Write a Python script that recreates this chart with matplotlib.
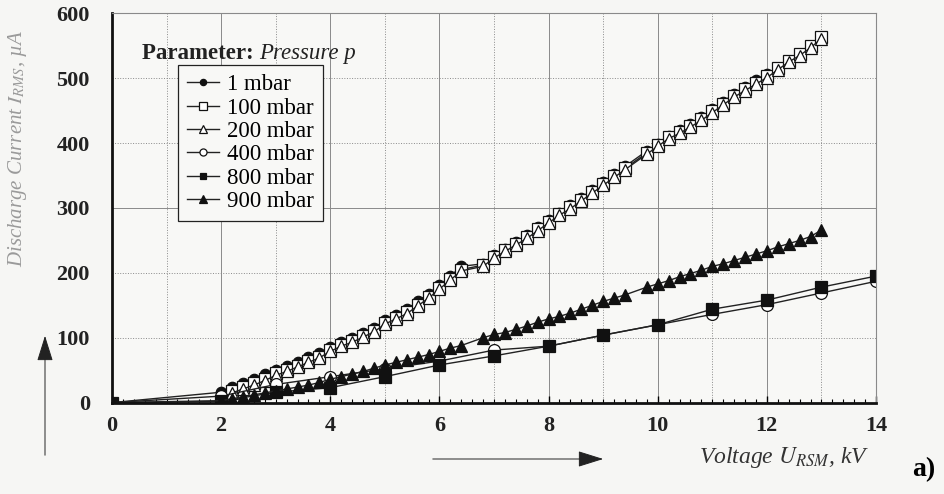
import matplotlib
matplotlib.use("Agg")
import matplotlib.pyplot as plt
from matplotlib.ticker import MultipleLocator

plt.rcParams["font.family"] = ["Liberation Serif", "DejaVu Serif"]
plt.rcParams["mathtext.fontset"] = "stix"

# upper branch (1 / 100 / 200 mbar), measured every 0.2 kV with two gaps
V_UPPER = [2.2, 2.4, 2.6, 2.8, 3.0, 3.2, 3.4, 3.6, 3.8, 4.0, 4.2, 4.4, 4.6, 4.8,
           5.0, 5.2, 5.4, 5.6, 5.8, 6.0, 6.2, 6.4, 6.8, 7.0, 7.2, 7.4, 7.6, 7.8,
           8.0, 8.2, 8.4, 8.6, 8.8, 9.0, 9.2, 9.4, 9.8, 10.0, 10.2, 10.4, 10.6,
           10.8, 11.0, 11.2, 11.4, 11.6, 11.8, 12.0, 12.2, 12.4, 12.6, 12.8, 13.0]
I_100 = [18, 24, 30, 37, 45, 51, 57, 64, 71, 81, 89, 95, 103, 111,
         123, 131, 139, 151, 163, 177, 191, 205, 212, 225, 235, 245, 255, 267,
         279, 291, 301, 313, 325, 337, 349, 361, 385, 397, 409, 417, 427,
         437, 449, 461, 473, 483, 493, 503, 515, 527, 537, 549, 563]
I_200 = [15, 21, 27, 34, 42, 48, 55, 62, 69, 79, 87, 93, 101, 109,
         121, 129, 137, 149, 161, 175, 189, 203, 210, 223, 233, 243, 253, 265,
         277, 289, 299, 311, 323, 335, 347, 359, 383, 395, 407, 415, 425,
         435, 447, 459, 471, 481, 491, 501, 513, 525, 535, 547, 561]

V_1 = [0, 2.0, 2.2, 2.4, 2.6, 2.8, 3.0, 3.2, 3.4, 3.6, 3.8, 4.0, 4.2, 4.4, 4.6,
       4.8, 5.0, 5.2, 5.4, 5.6, 5.8, 6.0, 6.2, 6.4, 6.8, 7.0, 7.2, 7.4, 7.6,
       7.8, 8.0, 8.2, 8.4, 8.6, 8.8, 9.0, 9.2, 9.4, 9.8, 10.0, 10.2, 10.4,
       10.6, 10.8, 11.0, 11.2, 11.4, 11.6, 11.8, 12.0]
I_1 = [0, 16, 24, 30, 37, 44, 51, 57, 63, 70, 77, 86, 93, 99, 107,
       115, 127, 135, 144, 156, 168, 181, 195, 210, 214, 227, 237, 247, 258,
       270, 282, 293, 304, 316, 328, 340, 352, 364, 388, 399, 411, 420,
       430, 440, 452, 464, 476, 487, 497, 506]

V_900 = [0, 2.0, 2.2, 2.4, 2.6, 2.8, 3.0, 3.2, 3.4, 3.6, 3.8, 4.0, 4.2, 4.4,
         4.6, 4.8, 5.0, 5.2, 5.4, 5.6, 5.8, 6.0, 6.2, 6.4, 6.8, 7.0, 7.2, 7.4,
         7.6, 7.8, 8.0, 8.2, 8.4, 8.6, 8.8, 9.0, 9.2, 9.4, 9.8, 10.0, 10.2,
         10.4, 10.6, 10.8, 11.0, 11.2, 11.4, 11.6, 11.8, 12.0, 12.2, 12.4,
         12.6, 12.8, 13.0]
I_900 = [0, 3, 6, 9, 12, 15, 18, 21, 24, 27, 31, 36, 40, 44,
         48, 53, 58, 62, 66, 70, 74, 79, 84, 88, 100, 105, 108, 113,
         118, 124, 129, 133, 138, 144, 150, 156, 161, 166, 178, 183, 188,
         194, 199, 204, 210, 214, 219, 224, 229, 234, 240, 245,
         250, 256, 266]

V_STEP = [0, 2, 3, 4, 5, 6, 7, 8, 9, 10, 11, 12, 13, 14]
I_400 = [0, 10, 28, 40, 52, 64, 81, 87, 104, 120, 136, 151, 169, 187]
I_800 = [0, 2, 16, 23, 40, 58, 72, 87, 104, 120, 144, 158, 178, 195]

X_TICKS = [0, 2, 4, 6, 8, 10, 12, 14]
Y_TICKS = [0, 100, 200, 300, 400, 500, 600]

fig = plt.figure(figsize=(9.45, 4.94), dpi=100, facecolor="#f6f6f4")
ax = fig.add_axes([0.1185, 0.185, 0.8085, 0.788], facecolor="#f8f8f6")

# grid: solid at even kV and every 300, dotted in between
for v in range(0, 15):
    ax.axvline(v, color="#8a8a8a", lw=0.7, ls="-" if v % 2 == 0 else ":", zorder=0)
for v in Y_TICKS:
    ax.axhline(v, color="#8a8a8a", lw=0.7, ls="-" if v % 300 == 0 else ":", zorder=0)

line = dict(color="#222222", lw=1.0, markeredgecolor="#111111", markeredgewidth=0.9)
ax.plot(V_1, I_1, marker="o", ms=7.5, mfc="#111111", label="1 mbar", **line)
ax.plot(V_UPPER, I_100, marker="s", ms=8.5, mfc="white", label="100 mbar", **line)
ax.plot(V_UPPER, I_200, marker="^", ms=8.5, mfc="white", label="200 mbar", **line)
ax.plot(V_STEP, I_400, marker="o", ms=8.5, mfc="white", label="400 mbar", **line)
ax.plot(V_STEP, I_800, marker="s", ms=8, mfc="#111111", label="800 mbar", **line)
ax.plot(V_900, I_900, marker="^", ms=8.5, mfc="#111111", label="900 mbar", **line)

ax.set_xlim(0, 14)
ax.set_ylim(0, 600)
ax.set_xticks(X_TICKS)
ax.set_yticks(Y_TICKS)
ax.xaxis.set_minor_locator(MultipleLocator(0.2))
ax.tick_params(axis="x", which="major", direction="in", length=5, width=1, pad=10,
               labelsize=16)
ax.tick_params(axis="x", which="minor", direction="in", length=3, width=0.8)
ax.tick_params(axis="y", length=0, pad=16, labelsize=16)
for lab in ax.get_xticklabels() + ax.get_yticklabels():
    lab.set_fontweight("bold")
    lab.set_color("#222222")

for side in ("left", "bottom"):
    ax.spines[side].set_linewidth(2.0)
    ax.spines[side].set_color("#111111")
for side in ("top", "right"):
    ax.spines[side].set_linewidth(0.8)
    ax.spines[side].set_color("#8a8a8a")

leg = ax.legend(loc="upper left", bbox_to_anchor=(0.188, 0.868),
                bbox_transform=fig.transFigure, borderaxespad=0,
                frameon=True, fancybox=False, framealpha=1, edgecolor="#222222",
                fontsize=16.5, markerscale=0.6, handlelength=1.4, handletextpad=0.35,
                labelspacing=0.1, borderpad=0.4)
leg.get_frame().set_linewidth(0.9)
leg.get_frame().set_facecolor("#f8f8f6")

t1 = fig.text(0.150, 0.880, "Parameter: ", fontsize=16.5, fontweight="bold",
              color="#222222", va="baseline")
ax.annotate("Pressure p", xy=(1, 0), xycoords=t1, va="bottom", fontsize=16.5,
            style="italic", color="#222222")

fig.text(0.019, 0.70, r"Discharge Current $I_{RMS}$, µA", rotation=90, ha="center",
         va="center", fontsize=15, style="italic", color="#9a9a9a")
fig.text(0.74, 0.073, r"Voltage $U_{RSM}$, kV", fontsize=17, style="italic",
         color="#333333", va="center")
fig.text(0.978, 0.05, "a)", fontsize=20, fontweight="bold", ha="center", va="center")

fig.add_artist(matplotlib.patches.FancyArrowPatch(
    (430 / 945, 1 - 459 / 494), (606 / 945, 1 - 459 / 494),
    transform=fig.transFigure, arrowstyle="-|>,head_length=16,head_width=5",
    lw=0.7, color="#222222", mutation_scale=1))
fig.add_artist(matplotlib.patches.FancyArrowPatch(
    (45 / 945, 1 - 458 / 494), (45 / 945, 1 - 333 / 494),
    transform=fig.transFigure, arrowstyle="-|>,head_length=16,head_width=5",
    lw=0.7, color="#222222", mutation_scale=1))

fig.savefig("out.png", dpi=100, facecolor=fig.get_facecolor())
